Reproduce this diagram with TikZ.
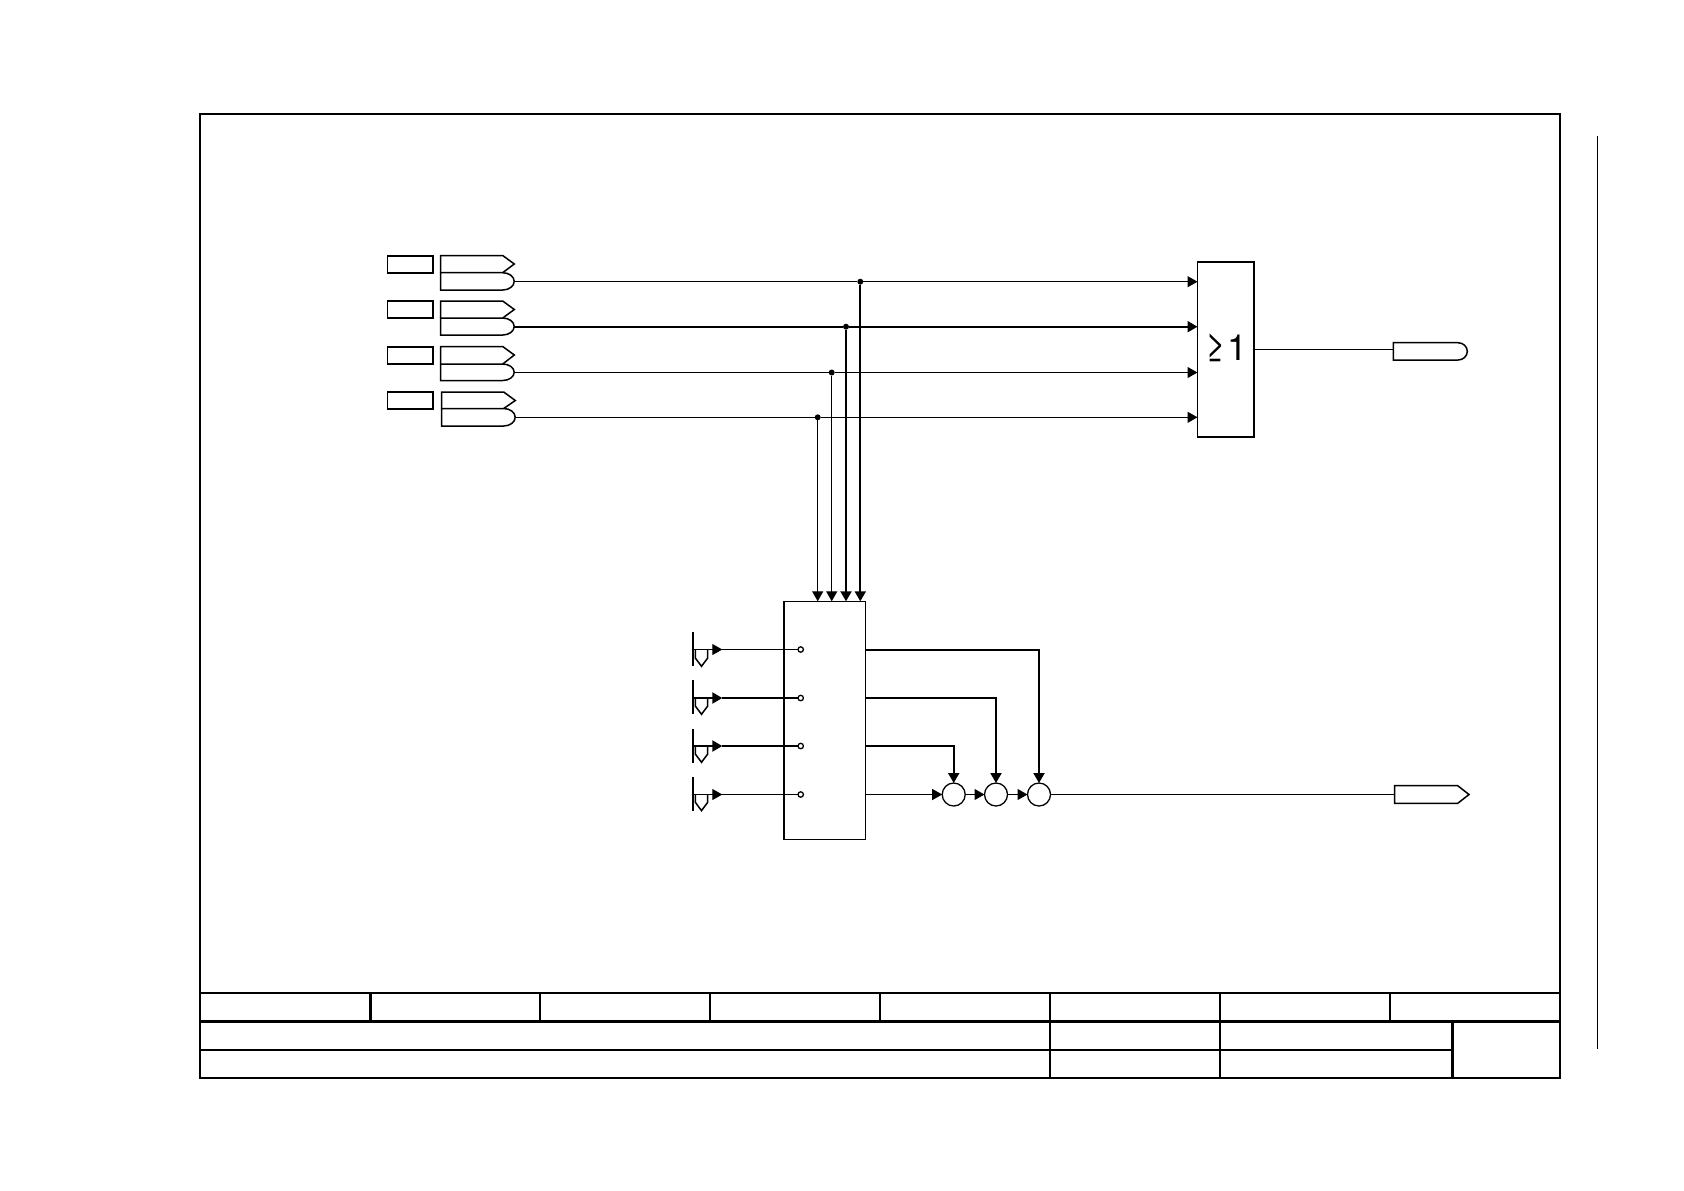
\documentclass[tikz,border=0pt]{standalone}
\usepackage{fontspec}
\setmainfont{TeX Gyre Heros}
\usetikzlibrary{arrows.meta}
\tikzset{
    wire/.style={line width=0.55pt, -{Triangle[length=5pt,width=5.5pt]}},
    plainwire/.style={line width=0.55pt},
    heavywire/.style={line width=1pt, -{Triangle[length=5pt,width=5.5pt]}},
    heavyplain/.style={line width=1pt},
    outline/.style={line width=0.75pt},
    tagbox/.style={draw, line width=0.85pt, inner sep=0pt, outer sep=0pt, minimum width=22.75pt, minimum height=8.5pt},
    block/.style={draw, line width=0.8pt, inner sep=0pt, outer sep=0pt},
    joint/.style={circle, fill=black, inner sep=0pt, outer sep=0pt, minimum size=3pt},
    port/.style={circle, draw, fill=white, line width=0.65pt, inner sep=0pt, outer sep=0pt, minimum size=2.7pt},
    sumpoint/.style={circle, draw, line width=0.65pt, inner sep=0pt, outer sep=0pt, minimum size=11.5pt},
    frameline/.style={line width=1.1pt},
    frameheavy/.style={line width=1.5pt}
}
\begin{document}
\begin{tikzpicture}[x=0.5pt, y=-0.5pt]
    \useasboundingbox (0,0) rectangle (1684,1190);

    % Drawing the sheet frame
    \draw[frameline] (200,114) rectangle (1560,1078);
    \draw[frameline] (200,992.7) -- (1560,992.7);
    \draw[frameheavy] (200,1021.7) -- (1560,1021.7);
    \draw[frameline] (200,1050) -- (1452,1050);
    \draw[frameheavy] (370,992.7) -- (370,1021.7);
    \draw[frameline] (540,992.7) -- (540,1021.7);
    \draw[frameline] (710,992.7) -- (710,1021.7);
    \draw[frameline] (880,992.7) -- (880,1021.7);
    \draw[frameline] (1050,992.7) -- (1050,1078);
    \draw[frameline] (1220,992.7) -- (1220,1078);
    \draw[frameline] (1390,992.7) -- (1390,1021.7);
    \draw[frameheavy] (1452,1021.7) -- (1452,1078);
    \draw[plainwire] (1597.5,136) -- (1597.5,1049);

    % Drawing the left boxes
    \node[tagbox] (labelA) at (410.2,264.2) {};
    \node[tagbox] (labelB) at (410.2,309.7) {};
    \node[tagbox] (labelC) at (410.2,355.3) {};
    \node[tagbox] (labelD) at (410.2,400.5) {};

    % Drawing the input tags
    \draw[outline] (440.7,272.7) -- (440.7,255.5) -- (502.7,255.5) -- (514.3,264) -- (502.7,272.7);
    \draw[outline] (440.7,272.7) -- (502.7,272.7) arc[start angle=-90, end angle=90, x radius=11.5, y radius=8.65] -- (440.7,290) -- cycle;
    \draw[outline] (440.7,318) -- (440.7,301) -- (502.7,301) -- (514.3,309.5) -- (502.7,318);
    \draw[outline] (440.7,318) -- (502.7,318) arc[start angle=-90, end angle=90, x radius=11.5, y radius=8.5] -- (440.7,335) -- cycle;
    \draw[outline] (440.7,364) -- (440.7,346.5) -- (502.7,346.5) -- (514.3,355) -- (502.7,364);
    \draw[outline] (440.7,364) -- (502.7,364) arc[start angle=-90, end angle=90, x radius=11.5, y radius=8.25] -- (440.7,380.5) -- cycle;
    \draw[outline] (441.7,408.5) -- (441.7,392) -- (503.7,392) -- (515.3,400.5) -- (503.7,408.5);
    \draw[outline] (441.7,408.5) -- (503.7,408.5) arc[start angle=-90, end angle=90, x radius=11.5, y radius=8.75] -- (441.7,426) -- cycle;
    \coordinate (tagA) at (514.2,281.7);
    \coordinate (tagB) at (514.2,326.7);
    \coordinate (tagC) at (514.2,372.5);
    \coordinate (tagD) at (515.2,417.3);

    % Drawing the blocks
    \node[block, minimum width=28.25pt, minimum height=87.65pt] (orbox) at (1225.75,349.35) {};
    \node[block, minimum width=40.8pt, minimum height=119pt] (mxbox) at (824.5,720.3) {};
    \node (orsign) at (1226.5,347.5) {\fontsize{18}{18}\selectfont\scalebox{0.95}[1.05]{≥}\hspace{1pt}1};

    % Drawing the joints
    \node[joint] (jointA) at (860.3,281.7) {};
    \node[joint] (jointB) at (846,326.7) {};
    \node[joint] (jointC) at (831.7,372.5) {};
    \node[joint] (jointD) at (817.7,417.3) {};

    % Drawing the wires to the OR block
    \draw[plainwire] (tagA) -- (jointA);
    \draw[wire] (jointA) -- (jointA -| orbox.west);
    \draw[heavyplain] (tagB) -- (jointB);
    \draw[heavywire] (jointB) -- (jointB -| orbox.west);
    \draw[plainwire] (tagC) -- (jointC);
    \draw[wire] (jointC) -- (jointC -| orbox.west);
    \draw[plainwire] (tagD) -- (jointD);
    \draw[wire] (jointD) -- (jointD -| orbox.west);

    % Drawing the wires down to the lower block
    \draw[heavywire] (jointA) -- (jointA |- mxbox.north);
    \draw[heavywire] (jointB) -- (jointB |- mxbox.north);
    \draw[wire] (jointC) -- (jointC |- mxbox.north);
    \draw[wire] (jointD) -- (jointD |- mxbox.north);

    % Drawing the output tag of the OR block
    \coordinate (outA) at (1393.3,349.5);
    \draw[plainwire] (orbox.east |- outA) -- (outA);
    \draw[outline] (1393.3,342.7) -- (1458,342.7) arc[start angle=-90, end angle=90, x radius=9.3, y radius=8.65] -- (1393.3,360) -- cycle;

    % Drawing the contacts
    \draw[outline] (693,632.3) -- (693,666);
    \draw[outline] (695.3,650) -- (695.3,658) -- (701.5,666.3) -- (707.7,658) -- (707.7,650);
    \draw[outline] (693,680.3) -- (693,714);
    \draw[outline] (695.3,698) -- (695.3,706) -- (701.5,714.3) -- (707.7,706) -- (707.7,698);
    \draw[outline] (693,729) -- (693,762.7);
    \draw[outline] (695.3,746) -- (695.3,754) -- (701.5,762.3) -- (707.7,754) -- (707.7,746);
    \draw[outline] (693,777.3) -- (693,811);
    \draw[outline] (695.3,794.3) -- (695.3,802.3) -- (701.5,810.6) -- (707.7,802.3) -- (707.7,794.3);
    \coordinate (srcA) at (693,649.5);
    \coordinate (srcB) at (693,698);
    \coordinate (srcC) at (693,746);
    \coordinate (srcD) at (693,794.5);
    \coordinate (tipA) at (722.3,649.5);
    \coordinate (tipB) at (722.3,698);
    \coordinate (tipC) at (722.3,746);
    \coordinate (tipD) at (722.3,794.5);
    \node[port] (portA) at (800.7,649.5) {};
    \node[port] (portB) at (800.7,698) {};
    \node[port] (portC) at (800.7,746) {};
    \node[port] (portD) at (800.7,794.5) {};
    \draw[wire] (srcA) -- (tipA);
    \draw[plainwire] (tipA) -- (portA);
    \draw[heavywire] (srcB) -- (tipB);
    \draw[heavyplain] (tipB) -- (portB);
    \draw[heavywire] (srcC) -- (tipC);
    \draw[heavyplain] (tipC) -- (portC);
    \draw[wire] (srcD) -- (tipD);
    \draw[plainwire] (tipD) -- (portD);

    % Drawing the summing points
    \node[sumpoint] (sumA) at (953.7,794.5) {};
    \node[sumpoint] (sumB) at (996,794.5) {};
    \node[sumpoint] (sumC) at (1039,794.5) {};
    \draw[heavywire] (mxbox.east |- portA) -| (sumC);
    \draw[heavywire] (mxbox.east |- portB) -| (sumB);
    \draw[heavywire] (mxbox.east |- portC) -| (sumA);
    \draw[wire] (mxbox.east |- portD) -- (sumA);
    \draw[wire] (sumA) -- (sumB);
    \draw[wire] (sumB) -- (sumC);

    % Drawing the output tag of the sum
    \coordinate (outB) at (1394.7,794.5);
    \draw[plainwire] (sumC) -- (outB);
    \draw[outline] (1394.7,785.7) -- (1457.7,785.7) -- (1469,794.5) -- (1457.7,803.3) -- (1394.7,803.3) -- cycle;
\end{tikzpicture}
\end{document}
